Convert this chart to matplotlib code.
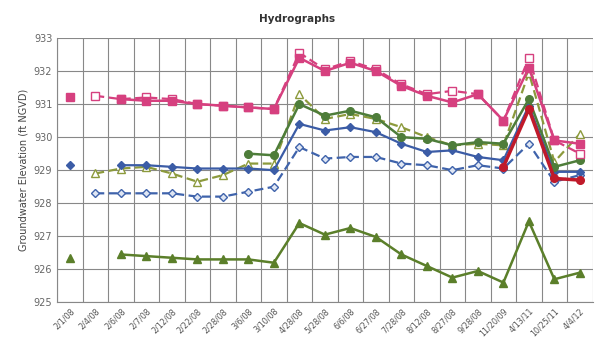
import matplotlib.pyplot as plt
import numpy as np

nan = np.nan
dates = ['2/1/08', '2/4/08', '2/6/08', '2/7/08', '2/12/08', '2/22/08', '2/28/08',
         '3/6/08', '3/10/08', '4/28/08', '5/28/08', '6/6/08', '6/27/08', '7/28/08',
         '8/12/08', '8/27/08', '9/28/08', '11/20/09', '4/13/11', '10/25/11', '4/4/12']

pink_solid = [931.2, nan, 931.15, 931.1, 931.1, 931.0, 930.95, 930.9, 930.85,
              932.4, 932.0, 932.25, 932.0, 931.55, 931.25, 931.05, 931.3, 930.5,
              932.1, 929.9, 929.8]
pink_dash = [nan, 931.25, 931.15, 931.2, 931.15, 931.0, 930.95, 930.9, 930.85,
             932.55, 932.05, 932.3, 932.05, 931.6, 931.3, 931.4, 931.3, 930.5,
             932.4, 929.9, 929.5]
green_solid = [nan, nan, nan, nan, nan, nan, nan, 929.5, 929.45,
               931.0, 930.65, 930.8, 930.6, 930.0, 929.95, 929.75, 929.85, 929.8,
               931.15, 929.1, 929.3]
olive_dash = [nan, 928.9, 929.05, 929.1, 928.9, 928.65, 928.85, 929.2, 929.2,
              931.3, 930.55, 930.7, 930.55, 930.3, 930.0, 929.75, 929.8, 929.75,
              931.95, 929.25, 930.1]
blue_solid = [929.15, nan, 929.15, 929.15, 929.1, 929.05, 929.05, 929.05, 929.0,
              930.4, 930.2, 930.3, 930.15, 929.8, 929.55, 929.6, 929.4, 929.3,
              930.95, 928.95, 928.95]
blue_dash = [nan, 928.3, 928.3, 928.3, 928.3, 928.2, 928.2, 928.35, 928.5,
             929.7, 929.35, 929.4, 929.4, 929.2, 929.15, 929.0, 929.15, 929.05,
             929.8, 928.65, 928.85]
red_solid = [nan] * 17 + [929.1, 930.85, 928.75, 928.7]
tri_solid = [926.35, nan, 926.45, 926.4, 926.35, 926.3, 926.3, 926.3, 926.2,
             927.4, 927.05, 927.25, 926.98, 926.45, 926.1, 925.75, 925.95, 925.6,
             927.45, 925.7, 925.9]

x = np.arange(len(dates))

fig = plt.figure(figsize=(5.95, 3.39), dpi=100)
ax = fig.add_axes([0.096, 0.108, 0.9, 0.78])

ax.plot(x, tri_solid, '-^', color='#5b7f2a', lw=1.8, ms=5.5)
ax.plot(x, blue_dash, '--D', color='#3f63ab', lw=1.6, ms=4.5, mfc='#dfe6f3', dashes=(4, 2))
ax.plot(x, olive_dash, '--^', color='#8c9a3c', lw=1.6, ms=5.5, mfc='white', dashes=(4, 2))
ax.plot(x, blue_solid, '-D', color='#3b5ca6', lw=1.6, ms=4.5)
ax.plot(x, green_solid, '-o', color='#4e7d3a', lw=1.8, ms=5.5)
ax.plot(x, pink_dash, '--s', color='#d6407f', lw=1.6, ms=5.5, mfc='white', dashes=(4, 2))
ax.plot(x, pink_solid, '-s', color='#d6407f', lw=1.8, ms=5.5)
ax.plot(x, red_solid, '-o', color='#c01a2a', lw=2.5, ms=5.5)

ax.set_xlim(-0.5, len(dates) - 0.5)
ax.set_ylim(925, 933)
ax.set_yticks(range(925, 934))
ax.set_xticks(x)
ax.set_xticklabels(dates, rotation=45, ha='right', rotation_mode='anchor',
                   fontsize=5.8, color='#555555')
ax.tick_params(axis='y', labelsize=7, labelcolor='#666666', length=0)
ax.tick_params(axis='x', length=0, pad=3)

ax.set_xticks(np.arange(-0.5, len(dates), 1), minor=True)
ax.tick_params(axis='x', which='minor', length=0)
ax.grid(which='minor', axis='x', color='#888888', lw=0.8)
ax.grid(which='major', axis='y', color='#888888', lw=0.8)
ax.set_axisbelow(True)
for s in ['top', 'right']:
    ax.spines[s].set_visible(False)
ax.spines['left'].set_color('#888888')
ax.spines['bottom'].set_color('#888888')

ax.set_ylabel('Groundwater Elevation (ft NGVD)', fontsize=7, color='#444444')
fig.text(0.5, 0.935, 'Hydrographs', ha='center', fontsize=7.5, fontweight='bold',
         color='#333333')

fig.savefig('out.png', dpi=100)
